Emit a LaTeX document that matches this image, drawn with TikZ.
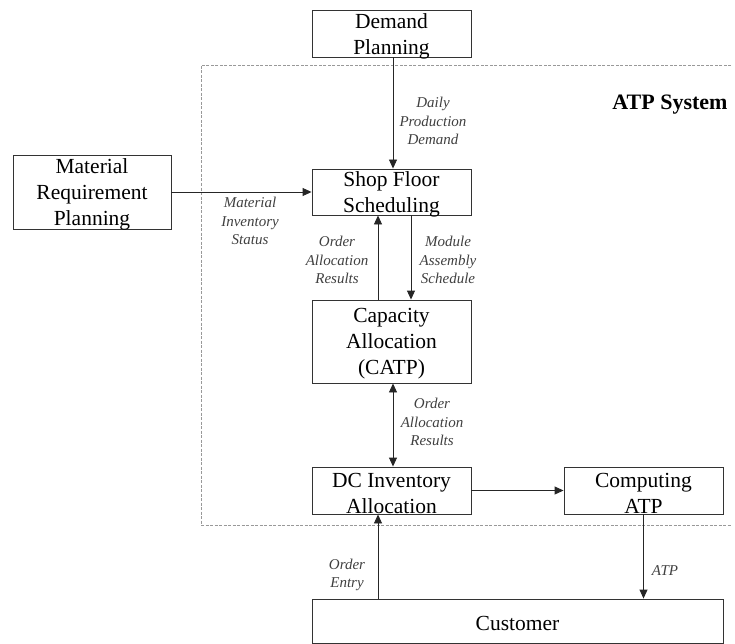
\documentclass[tikz,border=0pt]{standalone}
\usepackage{fontspec}
\setmainfont{Liberation Serif}
\usetikzlibrary{arrows.meta}
\begin{document}
\begin{tikzpicture}[x=1pt,y=-1pt,
  box/.style={draw=black!80,line width=0.9pt,rectangle,inner sep=0pt},
  boxtext/.style={align=center,inner sep=0pt,yshift=-2.5pt,
    font=\fontsize{21.5}{26}\selectfont},
  lbl/.style={align=center,inner sep=0pt,text=black!75,
    font=\fontsize{15}{18.5}\selectfont\itshape},
  tip/.tip={Triangle[length=9pt,width=8pt]},
  arr/.style={draw=black!85,line width=0.9pt,-tip},
  darr/.style={draw=black!85,line width=0.9pt,tip-tip},
  border/.style={draw=black!40,line width=0.8pt,dash pattern=on 3pt off 1.5pt}]
\useasboundingbox (0,0) rectangle (735,644);

% ATP system frame (open on the right)
\coordinate (ft) at (731,65);
\coordinate (fl) at (201,65);
\coordinate (fb) at (201,525);
\coordinate (fr) at (731,525);
\draw[border] (ft) -- (fl) -- (fb) -- (fr);
\node[font=\fontsize{22}{26}\selectfont\bfseries] (sys) at (670,105) {ATP System};

% blocks (text set as a centred label so it can overflow the frame slightly)
\node[box,minimum width=159pt,minimum height=47pt,
  label={[boxtext]center:{Demand\\Planning}}] (dp) at (391.5,33.5) {};
\node[box,minimum width=158pt,minimum height=74pt,
  label={[boxtext]center:{Material\\Requirement\\Planning}}] (mrp) at (92,192) {};
\node[box,minimum width=159pt,minimum height=46pt,
  label={[boxtext]center:{Shop Floor\\Scheduling}}] (sfs) at (391.5,192) {};
\node[box,minimum width=159pt,minimum height=83pt,
  label={[boxtext]center:{Capacity\\Allocation\\(CATP)}}] (catp) at (391.5,341.5) {};
\node[box,minimum width=159pt,minimum height=47pt,
  label={[boxtext]center:{DC Inventory\\Allocation}}] (dc) at (391.5,490.5) {};
\node[box,minimum width=159pt,minimum height=47pt,
  label={[boxtext]center:{Computing\\ATP}}] (cat) at (643.5,490.5) {};
\node[box,minimum width=411pt,minimum height=44pt,
  label={[boxtext]center:{Customer}}] (cust) at (517.5,621) {};

% flows
\draw[arr] ([xshift=1.5pt]dp.south) -- ([xshift=1.5pt]sfs.north);
\draw[arr] (mrp.east) -- (sfs.west);
\draw[arr] ([xshift=-13.5pt]catp.north) -- ([xshift=-13.5pt]sfs.south);
\draw[arr] ([xshift=19.5pt]sfs.south) -- ([xshift=19.5pt]catp.north);
\draw[darr] ([xshift=1.5pt]catp.south) -- ([xshift=1.5pt]dc.north);
\draw[arr] (dc.east) -- (cat.west);
\draw[arr] ([xshift=-13.5pt]cust.north -| dc.south) -- ([xshift=-13.5pt]dc.south);
\draw[arr] (cat.south) -- (cat.south |- cust.north);

% flow labels
\node[lbl] (l1) at (433,121) {Daily\\Production\\Demand};
\node[lbl] (l2) at (250,221) {Material\\Inventory\\Status};
\node[lbl] (l3) at (337,260) {Order\\Allocation\\Results};
\node[lbl] (l4) at (448,260) {Module\\Assembly\\Schedule};
\node[lbl] (l5) at (432,422) {Order\\Allocation\\Results};
\node[lbl] (l6) at (347,575) {Order\\Entry};
\node[lbl] (l7) at (665,571) {ATP};
\end{tikzpicture}
\end{document}
